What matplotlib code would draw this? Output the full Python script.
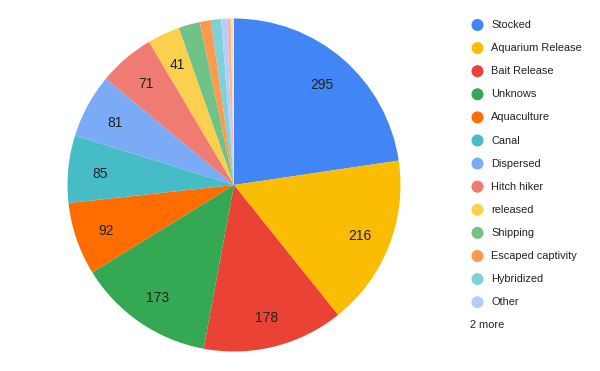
import matplotlib
matplotlib.use("Agg")
import matplotlib.pyplot as plt
import matplotlib.transforms as mtransforms
import numpy as np

plt.rcParams['font.family'] = ['Liberation Sans', 'DejaVu Sans']

# --- dados ---
categorias = ['Stocked', 'Aquarium Release', 'Bait Release', 'Unknows', 'Aquaculture',
              'Canal', 'Dispersed', 'Hitch hiker', 'released', 'Shipping',
              'Escaped captivity', 'Hybridized', 'Other', 'Mais 1', 'Mais 2']
valores = [295, 216, 178, 173, 92, 85, 81, 71, 41, 27, 14, 13, 7, 5, 4]
cores = ['#4285F4', '#FBBC04', '#EA4335', '#34A853', '#FF6D01', '#46BDC6',
         '#7BAAF7', '#F07B72', '#FCD04F', '#71C287', '#FF994D', '#7ED1D7',
         '#B3CEFB', '#F7B4AE', '#FDE49B']
n_legenda = 13
texto_mais = '2 more'
limite_rotulo = 40

W, H = 600, 371
fig = plt.figure(figsize=(W / 100, H / 100), dpi=100)

# --- pizza ---
cx, cy, r = 234, 185, 166.5
ax = fig.add_axes([(cx - r) / W, (H - cy - r) / H, 2 * r / W, 2 * r / H])
rotulos = [str(v) if v > limite_rotulo else '' for v in valores]
wedges, textos = ax.pie(valores, colors=cores, startangle=90, counterclock=False,
                        labels=rotulos, labeldistance=0.81,
                        textprops=dict(fontsize=10, color='#222222'))
# pequeno deslocamento para baixo (centralizar os digitos)
desloc = mtransforms.ScaledTranslation(0, -2 / 100, fig.dpi_scale_trans)
for t in textos:
    t.set_horizontalalignment('center')
    t.set_verticalalignment('center')
    t.set_transform(t.get_transform() + desloc)
ax.set_xlim(-1, 1)
ax.set_ylim(-1, 1)
ax.set_aspect('equal')
ax.axis('off')

# --- legenda ---
lg = fig.add_axes([0, 0, 1, 1])
lg.set_xlim(0, W)
lg.set_ylim(H, 0)
lg.axis('off')
ys = 25 + 23.1 * np.arange(n_legenda)
lg.scatter(np.full(n_legenda, 477.5), ys, s=75, c=cores[:n_legenda], linewidths=0)
for y, nome in zip(ys, categorias[:n_legenda]):
    lg.text(491, y, nome, fontsize=7.9, color='#222222', va='center', ha='left')
lg.text(470.5, 25 + 23.1 * n_legenda, texto_mais, fontsize=7.9, color='#222222',
        va='center', ha='left')

fig.savefig('out.png', dpi=100)
